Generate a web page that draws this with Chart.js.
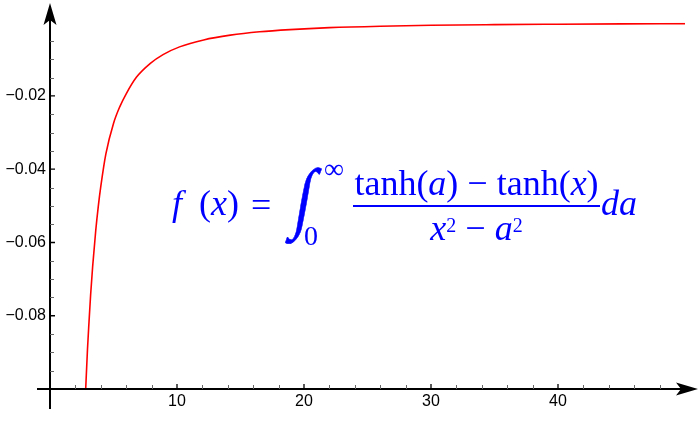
<!DOCTYPE html>
<html>
<head>
<meta charset="utf-8">
<script src="https://cdn.jsdelivr.net/npm/chart.js@4"></script>
<style>
  body { margin: 0; background: #fff; }
</style>
</head>
<body>
<canvas id="plot" width="700" height="425"></canvas>
<script>
// values
const xValues = [2.81, 2.95, 3.07, 3.2, 3.36, 3.6, 3.8, 4.0, 4.4, 5.0, 5.5, 6.0, 6.8, 7.9, 8.9, 10.2, 12.1, 14.2, 16.5, 18.9, 22, 26, 30, 35, 40, 45, 50];
const fValues = [-0.1, -0.0893, -0.0818, -0.0742, -0.0665, -0.0568, -0.0502, -0.0447, -0.0358, -0.0275, -0.0229, -0.0194, -0.0149, -0.0111, -0.0087, -0.0066, -0.0047, -0.0034, -0.00248, -0.00188, -0.00135, -0.00095, -0.0007, -0.00053, -0.00041, -0.00031, -0.00024];
const xTicks = [10, 20, 30, 40];
const yTicks = [-0.02, -0.04, -0.06, -0.08];
const xMinorTicks = [2, 4, 6, 8, 12, 14, 16, 18, 22, 24, 26, 28, 32, 34, 36, 38, 42, 44, 46, 48];
const yMinorTicks = [-0.005, -0.01, -0.015, -0.025, -0.03, -0.035, -0.045, -0.05, -0.055, -0.065, -0.07, -0.075, -0.085, -0.09, -0.095];

const tickFont = { family: 'Liberation Sans, Arial, sans-serif', size: 16 };

// Mathematica-style axes: crossing lines, inward ticks, arrowheads
const axesPlugin = {
  id: 'axes',
  afterDatasetsDraw(chart) {
    const ctx = chart.ctx;
    const xs = chart.scales.x, ys = chart.scales.y;
    const x0 = xs.getPixelForValue(0);
    const yb = ys.getPixelForValue(-0.1);
    ctx.save();
    ctx.strokeStyle = '#000';
    ctx.fillStyle = '#000';
    ctx.lineWidth = 2;
    ctx.beginPath();
    ctx.moveTo(x0 - 13, yb); ctx.lineTo(684, yb);
    ctx.moveTo(x0, yb + 20); ctx.lineTo(x0, 16);
    ctx.stroke();

    // arrowheads
    ctx.beginPath();
    ctx.moveTo(698, yb); ctx.lineTo(676, yb - 6.5); ctx.lineTo(681, yb); ctx.lineTo(676, yb + 6.5);
    ctx.closePath(); ctx.fill();
    ctx.beginPath();
    ctx.moveTo(x0, 3); ctx.lineTo(x0 - 6.5, 25); ctx.lineTo(x0, 20); ctx.lineTo(x0 + 6.5, 25);
    ctx.closePath(); ctx.fill();

    // minor ticks
    ctx.strokeStyle = '#666';
    ctx.lineWidth = 1;
    ctx.beginPath();
    xMinorTicks.forEach(v => {
      const p = Math.round(xs.getPixelForValue(v)) + 0.5;
      ctx.moveTo(p, yb); ctx.lineTo(p, yb - 4);
    });
    yMinorTicks.forEach(v => {
      const p = Math.round(ys.getPixelForValue(v)) + 0.5;
      ctx.moveTo(x0, p); ctx.lineTo(x0 + 4, p);
    });
    ctx.stroke();

    // major ticks
    ctx.strokeStyle = '#000';
    ctx.lineWidth = 1.3;
    ctx.beginPath();
    xTicks.forEach(v => {
      const p = xs.getPixelForValue(v);
      ctx.moveTo(p, yb); ctx.lineTo(p, yb - 5);
    });
    yTicks.forEach(v => {
      const p = ys.getPixelForValue(v);
      ctx.moveTo(x0, p); ctx.lineTo(x0 + 5, p);
    });
    ctx.stroke();
    ctx.restore();
  }
};

// the formula label
const formulaPlugin = {
  id: 'formula',
  afterDraw(chart) {
    const ctx = chart.ctx;
    const serif = 'Liberation Serif, Times New Roman, serif';
    ctx.save();
    ctx.fillStyle = '#0000ff';
    ctx.strokeStyle = '#0000ff';
    ctx.textBaseline = 'alphabetic';

    function run(parts, x, y) {
      parts.forEach(([txt, font]) => {
        ctx.font = font;
        ctx.fillText(txt, x, y);
        x += ctx.measureText(txt).width;
      });
      return x;
    }
    function width(parts) {
      let w = 0;
      parts.forEach(([txt, font]) => { ctx.font = font; w += ctx.measureText(txt).width; });
      return w;
    }

    const up = '36px ' + serif, it = 'italic 36px ' + serif, sup = '20px ' + serif;
    // left side
    run([['f', it]], 172, 215);
    run([['(', up], ['x', it], [')', up]], 199, 215);
    run([['=', up]], 251, 217);

    // integral sign, slanted and stretched
    ctx.save();
    ctx.transform(1.0, 0, -0.22, 1.25, 292, 223);
    ctx.font = '62px ' + serif;
    ctx.lineWidth = 0.5;
    ctx.fillText('\u222B', 0, 0);
    ctx.strokeText('\u222B', 0, 0);
    ctx.restore();
    run([['\u221E', '28px ' + serif]], 324, 178);
    run([['0', '28px ' + serif]], 304, 245);

    // fraction
    const num = [['tanh(', up], ['a', it], [') \u2212 tanh(', up], ['x', it], [')', up]];
    const den = [['x', it], ['2', sup], [' \u2212 ', up], ['a', it], ['2', sup]];
    const left = 353, right = 600, mid = (left + right) / 2;
    run(num, mid - width(num) / 2, 195);
    ctx.fillRect(left, 205, right - left, 2);
    let dx = mid - width(den) / 2;
    den.forEach(([txt, font]) => {
      ctx.font = font;
      ctx.fillText(txt, dx, font === sup ? 232 : 240);
      dx += ctx.measureText(txt).width;
    });

    run([['da', it]], 601, 215);
    ctx.restore();
  }
};

new Chart(document.getElementById('plot'), {
  type: 'line',
  data: {
    datasets: [{
      data: xValues.map((x, i) => ({ x: x, y: fValues[i] })),
      borderColor: '#ff0000',
      borderWidth: 1.6,
      pointRadius: 0,
      cubicInterpolationMode: 'monotone',
      fill: false
    }]
  },
  options: {
    responsive: false,
    animation: false,
    layout: { padding: { top: 22.7, right: 15, left: 0, bottom: 0 } },
    plugins: { legend: { display: false }, tooltip: { enabled: false } },
    scales: {
      x: {
        type: 'linear',
        min: 0,
        max: 50,
        afterBuildTicks: s => { s.ticks = xTicks.map(v => ({ value: v })); },
        afterFit: s => { s.height = 36; },
        grid: { display: false, drawTicks: false },
        border: { display: false },
        ticks: { font: tickFont, color: '#000', padding: 3, maxRotation: 0, autoSkip: false }
      },
      y: {
        type: 'linear',
        min: -0.1,
        max: 0,
        afterBuildTicks: s => { s.ticks = yTicks.map(v => ({ value: v })); },
        afterFit: s => { s.width = 50; },
        grid: { display: false, drawTicks: false },
        border: { display: false },
        ticks: {
          font: tickFont,
          color: '#000',
          padding: 4,
          callback: v => '\u2212' + Math.abs(v).toFixed(2)
        }
      }
    }
  },
  plugins: [axesPlugin, formulaPlugin]
});
</script>
</body>
</html>
